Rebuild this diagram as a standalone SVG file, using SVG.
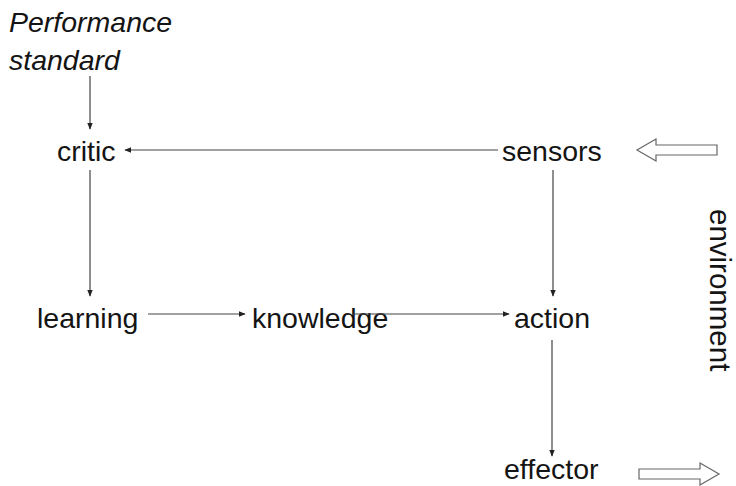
<svg xmlns="http://www.w3.org/2000/svg" width="736" height="486" viewBox="0 0 736 486">
<defs>
<style>
.t{font-family:"Liberation Sans",Arial,sans-serif;font-size:28.5px;fill:#141414}
.i{font-style:italic}
.c{stroke:#444;stroke-width:1.2;fill:none}
.h{stroke:#666;stroke-width:1.2;fill:#fff}
</style>
<marker id="a" viewBox="0 0 10 10" refX="9" refY="5" markerWidth="7" markerHeight="7" orient="auto" markerUnits="userSpaceOnUse">
<path d="M0,1 L10,5 L0,9 z" fill="#222"/>
</marker>
</defs>
<rect width="736" height="486" fill="#fff"/>
<g id="performance"><text class="t i" x="9" y="32">Performance</text><text class="t i" x="9" y="70">standard</text></g>
<g id="critic"><text class="t" x="57" y="161">critic</text></g>
<g id="sensors"><text class="t" x="502" y="161">sensors</text></g>
<g id="learning"><text class="t" x="37" y="328">learning</text></g>
<g id="knowledge"><text class="t" x="252" y="328">knowledge</text></g>
<g id="action"><text class="t" x="514" y="328">action</text></g>
<g id="effector"><text class="t" x="504" y="479">effector</text></g>
<g id="environment"><text class="t" style="font-size:29.5px" transform="translate(710,209) rotate(90)">environment</text></g>
<g id="connectors">
<line class="c" x1="90" y1="76" x2="90" y2="129" marker-end="url(#a)"/>
<line class="c" x1="498" y1="150" x2="125" y2="150" marker-end="url(#a)"/>
<line class="c" x1="90" y1="170" x2="90" y2="296" marker-end="url(#a)"/>
<line class="c" x1="553" y1="170" x2="553" y2="296" marker-end="url(#a)"/>
<line class="c" x1="148" y1="314" x2="245" y2="314" marker-end="url(#a)"/>
<line class="c" x1="352" y1="314" x2="509" y2="314" marker-end="url(#a)"/>
<line class="c" x1="552" y1="340" x2="552" y2="456" marker-end="url(#a)"/>
<path class="h" d="M717,145 L656,145 L656,139 L637,150 L656,161 L656,155 L717,155 z"/>
<path class="h" d="M639,469 L700,469 L700,463 L719,474 L700,485 L700,479 L639,479 z"/>
</g>
</svg>
